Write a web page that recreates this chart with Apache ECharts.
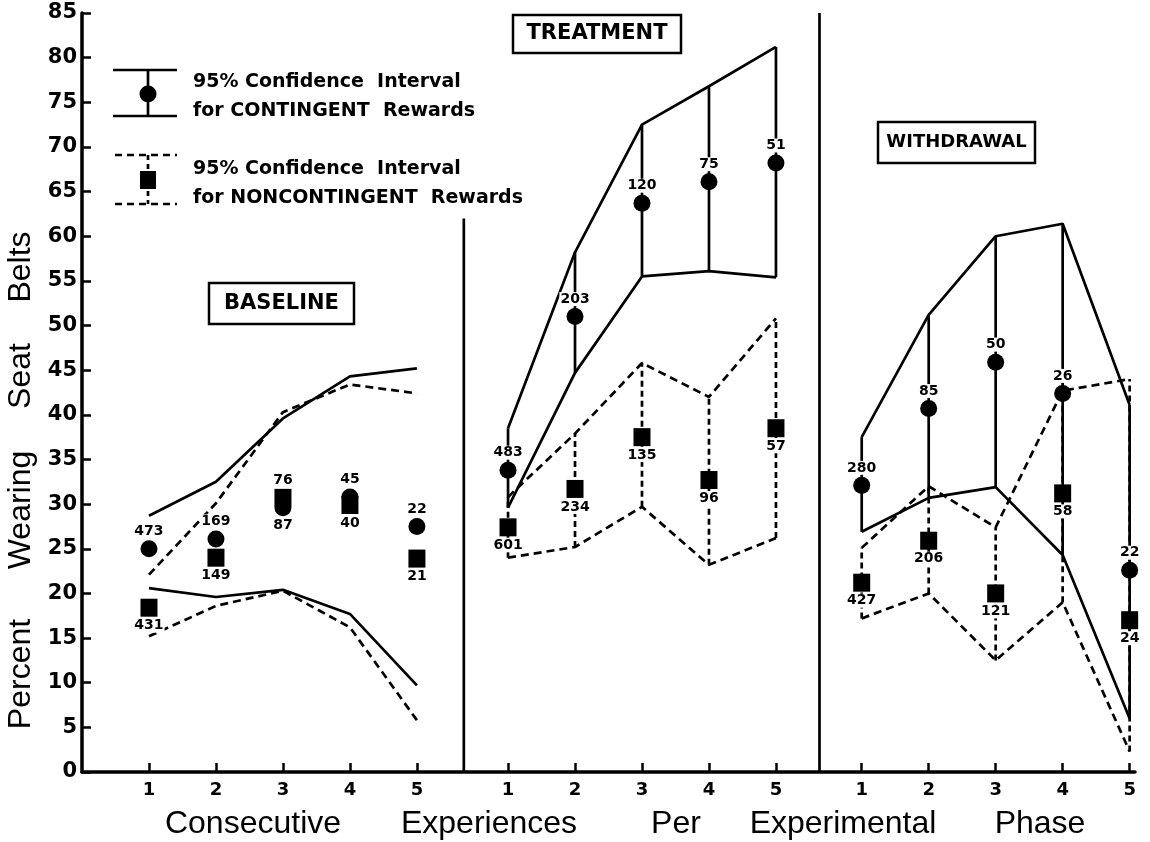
<!DOCTYPE html>
<html>
<head>
<meta charset="utf-8">
<script src="https://cdn.jsdelivr.net/npm/echarts@6/dist/echarts.min.js"></script>
<style>
  html, body { margin: 0; padding: 0; background: #fff; }
  #chart { width: 1150px; height: 842px; }
</style>
</head>
<body>
<div id="chart"></div>
<script>
// ---- data -------------------------------------------------------------
const stepLabels = ['1', '2', '3', '4', '5'];
const phaseNames = ['BASELINE', 'TREATMENT', 'WITHDRAWAL'];

// Baseline
const baseContRate  = [25.0, 26.1, 29.6, 30.8, 27.5];
const baseContN     = [473, 169, 76, 45, 22];
const baseContUpper = [28.7, 32.5, 39.6, 44.3, 45.2];
const baseContLower = [20.6, 19.6, 20.4, 17.7, 9.7];
const baseNonRate   = [18.4, 24.0, 30.7, 29.9, 23.9];
const baseNonN      = [431, 149, 87, 40, 21];
const baseNonUpper  = [22.1, 30.1, 40.3, 43.4, 42.4];
const baseNonLower  = [15.2, 18.6, 20.3, 16.2, 5.8];

// Treatment
const treatContRate  = [33.8, 51.0, 63.7, 66.1, 68.2];
const treatContN     = [483, 203, 120, 75, 51];
const treatContUpper = [38.5, 58.2, 72.5, 76.8, 81.2];
const treatContLower = [29.6, 44.7, 55.5, 56.1, 55.4];
const treatNonRate   = [27.4, 31.7, 37.5, 32.7, 38.5];
const treatNonN      = [601, 234, 135, 96, 57];
const treatNonUpper  = [30.8, 37.9, 45.8, 42.0, 50.8];
const treatNonLower  = [24.0, 25.2, 29.7, 23.2, 26.2];

// Withdrawal
const withContRate  = [32.1, 40.7, 45.9, 42.4, 22.6];
const withContN     = [280, 85, 50, 26, 22];
const withContUpper = [37.5, 51.2, 60.0, 61.4, 41.1];
const withContLower = [26.9, 30.7, 31.9, 24.3, 6.0];
const withNonRate   = [21.2, 25.9, 20.0, 31.2, 17.0];
const withNonN      = [427, 206, 121, 58, 24];
const withNonUpper  = [25.1, 32.0, 27.4, 42.7, 44.0];
const withNonLower  = [17.2, 20.0, 12.5, 19.0, 2.3];

const yTicks = { min: 0, max: 85, step: 5 };

// ---- layout -----------------------------------------------------------
const phaseOffset = [0, 5.36, 10.64];     // x-axis offset of each phase block
const phaseBars   = [false, true, true];  // draw vertical interval bars
const dividers    = [{ x: 5.70, top: 62 }, { x: 11.01, top: 85 }];
const X_MAX = 15.72;

const INK = '#000';
const BOLD = 'DejaVu Sans';
const PLAIN = 'Liberation Sans';
const LW = 2.7;
const SOLID = { color: INK, width: LW, type: 'solid' };
const DASH  = { color: INK, width: LW, type: [8, 5] };

const phases = [
  { cont: { rate: baseContRate,  n: baseContN,  upper: baseContUpper,  lower: baseContLower },
    non:  { rate: baseNonRate,   n: baseNonN,   upper: baseNonUpper,   lower: baseNonLower } },
  { cont: { rate: treatContRate, n: treatContN, upper: treatContUpper, lower: treatContLower },
    non:  { rate: treatNonRate,  n: treatNonN,  upper: treatNonUpper,  lower: treatNonLower } },
  { cont: { rate: withContRate,  n: withContN,  upper: withContUpper,  lower: withContLower },
    non:  { rate: withNonRate,   n: withNonN,   upper: withNonUpper,   lower: withNonLower } }
];

const tickPos = [];
const tickText = [];
phases.forEach((ph, p) => stepLabels.forEach((s, i) => {
  tickPos.push(phaseOffset[p] + i + 1);
  tickText.push(s);
}));
function tickLabel(v) {
  let best = 0;
  tickPos.forEach((t, i) => { if (Math.abs(t - v) < Math.abs(tickPos[best] - v)) best = i; });
  return tickText[best];
}

const countLabel = {
  show: true, color: INK, opacity: 1, fontFamily: BOLD, fontWeight: 'bold', fontSize: 14,
  backgroundColor: '#fff', padding: [0, 1], distance: 2,
  formatter: p => String(p.value[2])
};

const series = [];

// phase dividers
dividers.forEach(d => series.push({
  type: 'line', data: [[d.x, 0], [d.x, d.top]], symbol: 'none',
  lineStyle: SOLID, silent: true, z: 2, animation: false
}));

phases.forEach((ph, p) => {
  const xs = stepLabels.map((_, i) => phaseOffset[p] + i + 1);
  [['cont', SOLID, [0, 0]], ['non', DASH, [6, 4]]].forEach(([key, ls, dash]) => {
    const g = ph[key];
    // confidence limits
    ['upper', 'lower'].forEach(b => series.push({
      type: 'line', data: xs.map((x, i) => [x, g[b][i]]), symbol: 'none',
      lineStyle: ls, silent: true, z: 2, animation: false
    }));
    // vertical interval bars
    if (phaseBars[p]) {
      series.push({
        type: 'custom', z: 3, silent: true, animation: false,
        data: xs.map((x, i) => [x, g.lower[i], g.upper[i]]),
        renderItem: (params, api) => {
          const a = api.coord([api.value(0), api.value(1)]);
          const b = api.coord([api.value(0), api.value(2)]);
          return {
            type: 'line',
            shape: { x1: a[0], y1: a[1], x2: b[0], y2: b[1] },
            style: { stroke: INK, lineWidth: LW, lineDash: key === 'non' ? dash : null }
          };
        }
      });
    }
  });

  // markers
  series.push({
    type: 'scatter', symbol: 'circle', symbolSize: 17, z: 5, animation: false,
    itemStyle: { color: INK, opacity: 1 },
    data: xs.map((x, i) => [x, ph.cont.rate[i]])
  });
  series.push({
    type: 'scatter', symbol: 'rect', symbolSize: [17, 18], z: 5, animation: false,
    itemStyle: { color: INK, opacity: 1 },
    data: xs.map((x, i) => [x, ph.non.rate[i]])
  });

  // sample sizes: contingent above, noncontingent below; stacked markers share an anchor
  const contAnchor = xs.map((x, i) => {
    const c = ph.cont.rate[i], n = ph.non.rate[i];
    return [x, Math.abs(c - n) < 2.5 ? Math.max(c, n) : c, ph.cont.n[i]];
  });
  const nonAnchor = xs.map((x, i) => {
    const c = ph.cont.rate[i], n = ph.non.rate[i];
    return [x, Math.abs(c - n) < 2.5 ? Math.min(c, n) : n, ph.non.n[i]];
  });
  series.push({
    type: 'scatter', symbolSize: 17, z: 6, silent: true, animation: false,
    itemStyle: { color: 'rgba(0,0,0,0)', opacity: 1 },
    label: Object.assign({ position: 'top' }, countLabel),
    data: contAnchor
  });
  series.push({
    type: 'scatter', symbolSize: 18, z: 6, silent: true, animation: false,
    itemStyle: { color: 'rgba(0,0,0,0)', opacity: 1 },
    label: Object.assign({ position: 'bottom' }, countLabel),
    data: nonAnchor
  });
});

// ---- annotations ------------------------------------------------------
function boxLabel(text, x, y, w, h, size) {
  return {
    type: 'group', children: [
      { type: 'rect', shape: { x: x, y: y, width: w, height: h },
        style: { fill: '#fff', stroke: INK, lineWidth: 2.5 }, z: 10 },
      { type: 'text', x: x + w / 2, y: y + h / 2, z: 11,
        style: { text: text, fill: INK, font: `bold ${size}px "${BOLD}"`,
                 textAlign: 'center', textVerticalAlign: 'middle' } }
    ]
  };
}
function legendText(text, x, y) {
  return { type: 'text', x: x, y: y, z: 11,
    style: { text: text, fill: INK, font: `bold 19px "${BOLD}"`, textAlign: 'left', textVerticalAlign: 'middle' } };
}
function seg(x1, y1, x2, y2, dash) {
  return { type: 'line', z: 11, shape: { x1, y1, x2, y2 },
    style: { stroke: INK, lineWidth: LW, lineDash: dash || null } };
}
function word(text, x, y, rot) {
  return { type: 'text', x: x, y: y, rotation: rot || 0, z: 11,
    style: { text: text, fill: INK, font: `32px "${PLAIN}"`, textAlign: 'center', textVerticalAlign: 'middle' } };
}

const graphic = [
  // legend: contingent
  seg(113, 70, 177, 70), seg(113, 116, 177, 116), seg(148, 70, 148, 116),
  { type: 'circle', z: 12, shape: { cx: 148, cy: 94, r: 8.5 }, style: { fill: INK } },
  legendText('95% Confidence  Interval', 193, 82),
  legendText('for CONTINGENT  Rewards', 193, 111),
  // legend: noncontingent
  seg(115, 155, 177, 155, [7, 5]), seg(115, 204, 177, 204, [7, 5]), seg(148, 155, 148, 204, [5, 4]),
  { type: 'rect', z: 12, shape: { x: 140, y: 171, width: 16, height: 18 }, style: { fill: INK } },
  legendText('95% Confidence  Interval', 193, 169),
  legendText('for NONCONTINGENT  Rewards', 193, 198),
  // phase names
  boxLabel(phaseNames[0], 209, 283, 145, 41, 21),
  boxLabel(phaseNames[1], 513, 15, 168, 38, 21),
  boxLabel(phaseNames[2], 878, 122, 157, 41, 18),
  // axis titles
  word('Percent', 21, 674, Math.PI / 2),
  word('Wearing', 21, 510, Math.PI / 2),
  word('Seat', 21, 376, Math.PI / 2),
  word('Belts', 21, 267, Math.PI / 2),
  word('Consecutive', 253, 824),
  word('Experiences', 489, 824),
  word('Per', 676, 824),
  word('Experimental', 843, 824),
  word('Phase', 1040, 824)
];

const chart = echarts.init(document.getElementById('chart'), null, { renderer: 'canvas' });
chart.setOption({
  backgroundColor: '#fff',
  animation: false,
  grid: { left: 82, right: 15, top: 13, bottom: 70, containLabel: false },
  xAxis: {
    type: 'value', min: 0, max: X_MAX,
    splitLine: { show: false },
    axisLine: { lineStyle: { color: INK, width: 3.5 } },
    axisTick: { inside: true, length: 9, lineStyle: { color: INK, width: 2.5 }, customValues: tickPos },
    axisLabel: { customValues: tickPos, formatter: v => tickLabel(v), color: INK,
                 fontFamily: BOLD, fontWeight: 'bold', fontSize: 18, margin: 9 }
  },
  yAxis: {
    type: 'value', min: yTicks.min, max: yTicks.max, interval: yTicks.step,
    splitLine: { show: false },
    axisLine: { show: true, lineStyle: { color: INK, width: 3.5 } },
    axisTick: { show: true, inside: true, length: 9, lineStyle: { color: INK, width: 2.5 } },
    axisLabel: { color: INK, fontFamily: BOLD, fontWeight: 'bold', fontSize: 21, margin: 5 }
  },
  series: series,
  graphic: graphic
});
</script>
</body>
</html>
